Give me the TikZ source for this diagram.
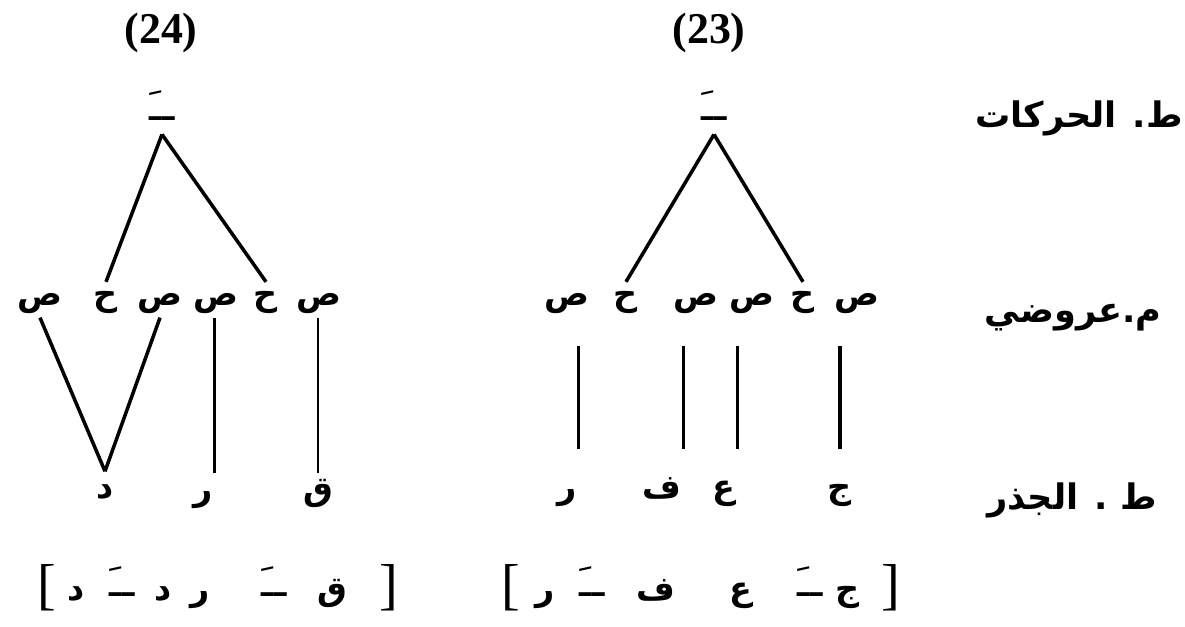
\documentclass[tikz,border=0pt]{standalone}
\usepackage{fontspec}
\setmainfont{Liberation Serif}
\newfontfamily\arabicfont[Script=Arabic]{DejaVu Sans}
\TeXXeTstate=1
\usepackage{tikz}
\usetikzlibrary{calc}

\newcommand{\arab}[1]{\arabicfont\beginR #1\endR}

\begin{document}
\begin{tikzpicture}[
  x=0.02cm,y=-0.02cm,
  tier/.style={font=\fontsize{20}{22}\selectfont\bfseries,inner sep=1pt},
  seg/.style={font=\fontsize{19}{22}\selectfont\bfseries,inner sep=1pt,anchor=base,
              text height=12pt,text depth=6pt},
  root/.style={seg,text height=14pt,text depth=6pt},
  haraka/.style={font=\fontsize{24}{26}\selectfont,inner sep=1pt,anchor=base,
                 text depth=7pt},
  num/.style={font=\fontsize{25}{27}\selectfont\bfseries,inner sep=1pt},
  brk/.style={font=\fontsize{32}{34}\selectfont,inner sep=1pt,anchor=base},
  link/.style={line width=2pt},
  thinlink/.style={line width=1.1pt}
]
\useasboundingbox (0,0) rectangle (1185,626);

\node[tier] (tv) at (1079,118) {\arab{ط. الحركات}};
\node[tier] (tm) at (1073,318) {\arab{م.عروضي}};
\node[tier] (tr) at (1072,500) {\arab{ط . الجذر}};

\node[num] (n24) at (161,33) {(24)};
\node[haraka] (m24) at (162,120) {\arab{ــَ}};
\node[seg] (c24a) at (40,305) {\arab{ص}};
\node[seg] (v24a) at (106,305) {\arab{ح}};
\node[seg] (c24b) at (160,305) {\arab{ص}};
\node[seg] (c24c) at (216,305) {\arab{ص}};
\node[seg] (v24b) at (266,305) {\arab{ح}};
\node[seg] (c24d) at (319,305) {\arab{ص}};
\node[root] (d24) at (105,498) {\arab{د}};
\node[root] (r24) at (203,500) {\arab{ر}};
\node[root] (q24) at (318,500) {\arab{ق}};

\draw[link] (m24.south) -- (v24a.north);
\draw[link] (m24.south) -- (v24b.north);
\draw[link] (c24a.south) -- (d24.north);
\draw[link] (c24b.south) -- (d24.north);
\draw[link] (c24c.south -| r24.north east) -- (r24.north east);
\draw[thinlink] (c24d.south -| q24.north) -- (q24.north);

\node[num] (n23) at (709,33) {(23)};
\node[haraka] (m23) at (714,120) {\arab{ــَ}};
\node[seg] (c23a) at (567,305) {\arab{ص}};
\node[seg] (v23a) at (626,305) {\arab{ح}};
\node[seg] (c23b) at (696,305) {\arab{ص}};
\node[seg] (c23c) at (752,305) {\arab{ص}};
\node[seg] (v23b) at (803,305) {\arab{ح}};
\node[seg] (c23d) at (857,305) {\arab{ص}};
\node[root] (r23) at (567,498) {\arab{ر}};
\node[root] (f23) at (662,498) {\arab{ف}};
\node[root] (e23) at (724,498) {\arab{ع}};
\node[root] (j23) at (840,498) {\arab{ج}};

\draw[link] (m23.south) -- (v23a.north);
\draw[link] (m23.south) -- (v23b.north);
\draw[link,shorten <=0.56cm,shorten >=0.44cm] (c23a.south -| r23.north east) -- (r23.north east);
\draw[link,shorten <=0.56cm,shorten >=0.44cm] (c23b.south -| f23.north east) -- (f23.north east);
\draw[link,shorten <=0.56cm,shorten >=0.44cm] (c23c.south -| e23.north east) -- (e23.north east);
\draw[link,shorten <=0.56cm,shorten >=0.44cm] (c23d.south -| j23.north) -- (j23.north);

\node[brk] (o24) at (47,603) {[};
\node[seg] (s24a) at (76,600) {\arab{د}};
\node[haraka] (s24b) at (122,596) {\arab{ــَ}};
\node[seg] (s24c) at (163,600) {\arab{د}};
\node[seg] (s24d) at (200,600) {\arab{ر}};
\node[haraka] (s24e) at (274,596) {\arab{ــَ}};
\node[seg] (s24f) at (332,600) {\arab{ق}};
\node[brk] (e24) at (389,603) {]};

\node[brk] (o23) at (511,603) {[};
\node[seg] (s23a) at (545,600) {\arab{ر}};
\node[haraka] (s23b) at (592,596) {\arab{ــَ}};
\node[seg] (s23c) at (656,600) {\arab{ف}};
\node[seg] (s23d) at (741,600) {\arab{ع}};
\node[haraka] (s23e) at (810,596) {\arab{ــَ}};
\node[seg] (s23f) at (848,600) {\arab{ج}};
\node[brk] (e23) at (891,603) {]};
\end{tikzpicture}
\end{document}
